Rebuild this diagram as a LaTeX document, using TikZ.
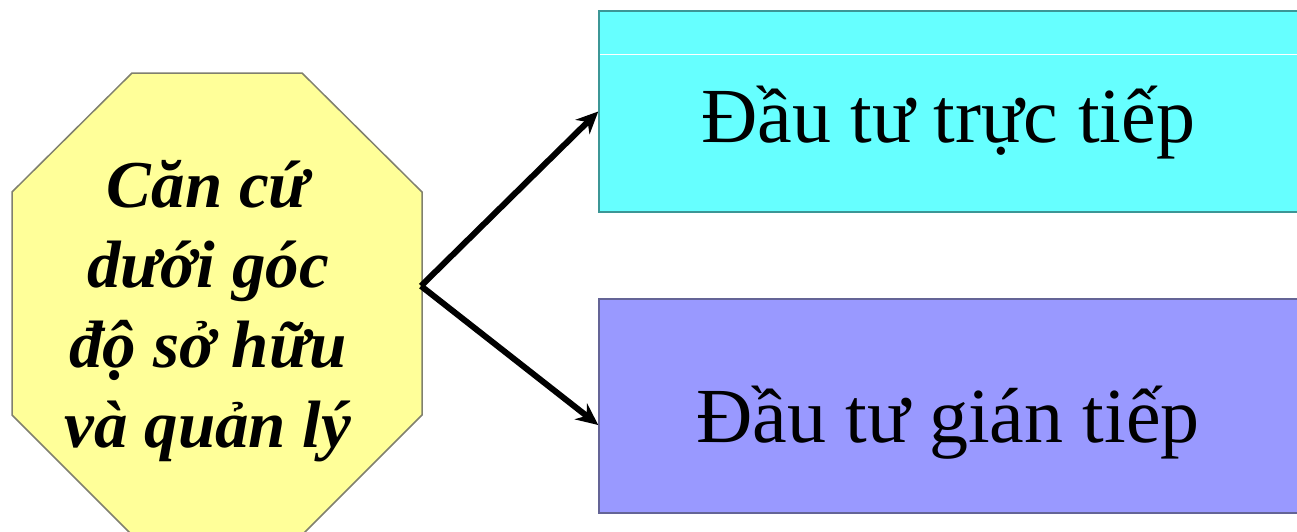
\documentclass[tikz,border=0pt]{standalone}
\usepackage{fontspec}
\setmainfont{Liberation Serif}
\usetikzlibrary{arrows.meta}
\definecolor{octfill}{RGB}{255,255,153}
\definecolor{octline}{RGB}{128,128,110}
\definecolor{cyanfill}{RGB}{102,255,255}
\definecolor{cyanline}{RGB}{60,150,150}
\definecolor{purfill}{RGB}{153,153,255}
\definecolor{purline}{RGB}{100,100,150}
\tikzset{
  boxshape/.style={rectangle, inner sep=0pt, line width=1.5pt, minimum width=701pt},
  boxtext/.style={inner sep=0pt, anchor=base, font=\fontsize{78}{90}\selectfont},
  octtext/.style={inner sep=0pt, align=center, font=\fontsize{67}{80}\selectfont\bfseries\itshape},
  link/.style={line width=6pt, -{Stealth[length=22pt,width=20pt]}},
}
\begin{document}
\begin{tikzpicture}[x=1pt,y=-1pt]
\useasboundingbox (0,0) rectangle (1297,531);
\begin{scope}
\clip (0,0) rectangle (1297,531);
% octagon
\draw[fill=octfill, draw=octline, line width=1.5pt]
  (132,73) -- (302,73) -- (422,192) -- (422,415) -- (302,535)
  -- (132,535) -- (12,415) -- (12,192) -- cycle;
% boxes
\node[boxshape, fill=cyanfill, draw=cyanline, minimum height=201pt] (top) at (949.5,111.5) {};
\draw[white, line width=0.6pt] (600,54) -- (1297,54);
\node[boxshape, fill=purfill, draw=purline, minimum height=214pt] (bot) at (949.5,406) {};
\end{scope}
\node[octtext] (oct) at (208,311) {Căn cứ\\dưới góc\\độ sở hữu\\và quản lý};
\node[boxtext] (ttop) at (948,142) {Đầu tư trực tiếp};
\node[boxtext] (tbot) at (948,442) {Đầu tư gián tiếp};
\coordinate (src) at (421,286);
\draw[link] (src) -- (top.west);
\draw[link] (src) -- ([yshift=-19pt]bot.west);
\end{tikzpicture}
\end{document}
